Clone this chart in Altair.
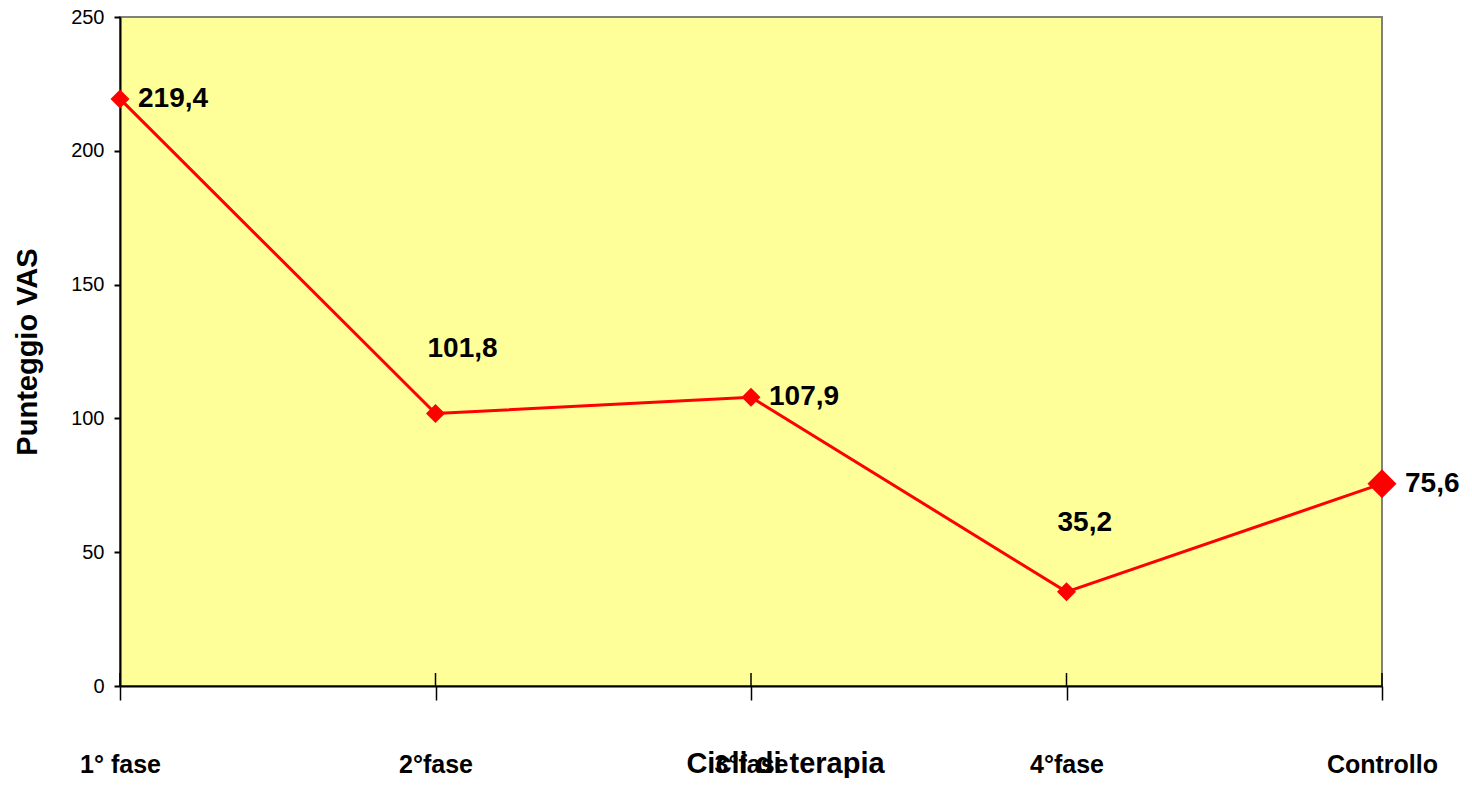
import json
import altair as alt
import pandas as pd

categories = ["1° fase", "2°fase", "3°fase", "4°fase", "Controllo"]
values = [219.4, 101.8, 107.9, 35.2, 75.6]
value_labels = ["219,4", "101,8", "107,9", "35,2", "75,6"]
y_ticks = [0, 50, 100, 150, 200, 250]

df = pd.DataFrame({"fase": categories, "vas": values, "label": value_labels})

FONT = "Liberation Sans"
RED = "#FF0000"

cat_js = json.dumps(categories, ensure_ascii=False)
positions = list(range(len(categories)))

x_enc = alt.X(
    "idx:Q",
    scale=alt.Scale(domain=[0, len(categories) - 1], nice=False, zero=False),
    axis=alt.Axis(
        values=positions,
        labelExpr=f"{cat_js}[datum.value]",
        title="Cicli di terapia",
        labelAngle=0,
        labelFlush=False,
        labelOverlap=False,
        labelFont=FONT,
        labelFontSize=25,
        labelFontWeight="bold",
        labelColor="black",
        labelBaseline="alphabetic",
        labelPadding=72,
        tickSize=14,
        tickWidth=1.5,
        tickColor="black",
        domainColor="black",
        domainWidth=2,
        grid=False,
        titleFont=FONT,
        titleFontSize=29,
        titleFontWeight="bold",
        titleColor="black",
        titleX=665,
        titleY=86,
        titleBaseline="alphabetic",
        titleAlign="center",
    ),
)

y_enc = alt.Y(
    "vas:Q",
    scale=alt.Scale(domain=[0, 250], nice=False),
    axis=alt.Axis(
        values=y_ticks,
        title="Punteggio VAS",
        labelFont=FONT,
        labelFontSize=20,
        labelColor="black",
        labelPadding=10,
        tickSize=6,
        tickWidth=2,
        tickColor="black",
        domainColor="black",
        domainWidth=2,
        grid=False,
        titleFont=FONT,
        titleFontSize=29,
        titleFontWeight="bold",
        titleColor="black",
        titleX=-93,
        titleY=334.5,
        titleAngle=270,
        titleBaseline="middle",
        titleAlign="center",
    ),
)

base = (
    alt.Chart(df)
    .transform_calculate(idx=f"indexof({cat_js}, datum.fase)")
    .encode(x=x_enc, y=y_enc)
)

line = base.mark_line(color=RED, strokeWidth=3)

points = base.mark_point(
    shape="diamond", filled=True, color=RED, opacity=1, strokeWidth=0
).encode(
    size=alt.condition("datum.fase === 'Controllo'", alt.value(841), alt.value(361))
)

upper_ticks = base.mark_rule(color="black", strokeWidth=1.5).encode(
    y=alt.value(656), y2=alt.value(669)
)


def labels(names, dx, dy):
    return base.mark_text(
        font=FONT,
        fontSize=28,
        fontWeight="bold",
        color="black",
        align="left",
        baseline="middle",
        dx=dx,
        dy=dy,
    ).encode(text="label:N").transform_filter(
        alt.FieldOneOfPredicate(field="fase", oneOf=names)
    )


chart = (
    alt.layer(
        upper_ticks,
        line,
        points,
        labels(["1° fase", "3°fase"], 18, 0),
        labels(["Controllo"], 23, 0),
        labels(["2°fase"], -8, -65),
        labels(["4°fase"], -9, -69),
    )
    .properties(
        width=1262,
        height=669,
        autosize=alt.AutoSizeParams(type="none"),
        padding={"left": 112, "top": 9, "right": 82, "bottom": 92},
    )
    .configure_view(fill="#FFFF99", stroke="#808080", strokeWidth=2)
)

chart.save("out.html", embed_options={"renderer": "svg", "actions": False})
